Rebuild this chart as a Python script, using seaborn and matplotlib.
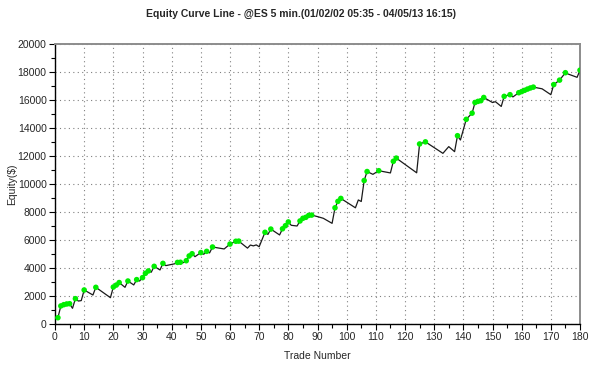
import matplotlib
matplotlib.use("Agg")
import matplotlib.pyplot as plt
import seaborn as sns
import pandas as pd
from matplotlib.ticker import MultipleLocator

trades = [1, 2, 3, 4, 5, 6, 7, 8, 9, 10, 13, 14, 19, 20, 21, 22, 24, 25, 27, 28,
          29, 30, 31, 32, 33, 34, 36, 37, 38, 41, 42, 43, 44, 45, 46, 47, 48, 50, 51, 52,
          53, 54, 58, 60, 62, 63, 66, 67, 68, 69, 70, 72, 73, 74, 77, 78, 79, 80, 81, 83,
          84, 85, 86, 87, 88, 90, 92, 95, 96, 97, 98, 103, 104, 105, 106, 107, 109, 111, 115, 116,
          117, 124, 125, 127, 133, 135, 137, 138, 139, 141, 143, 144, 145, 146, 147, 150, 151, 153, 154, 156,
          157, 159, 160, 161, 162, 163, 164, 167, 170, 171, 173, 175, 176, 179, 180]
equity = [450, 1290, 1380, 1430, 1450, 1120, 1810, 1640, 1670, 2430, 2070, 2620, 1880, 2640, 2780, 2960, 2620, 3070, 2790, 3170,
          3070, 3310, 3620, 3790, 3700, 4120, 3860, 4330, 4170, 4300, 4400, 4410, 4380, 4520, 4860, 5020, 4810, 5100, 4980, 5190,
          5080, 5500, 5360, 5710, 5910, 5920, 5420, 5640, 5580, 5650, 5520, 6550, 6400, 6780, 6360, 6800, 7020, 7290, 7050, 7000,
          7360, 7550, 7620, 7760, 7780, 7670, 7550, 7190, 8300, 8760, 8970, 8300, 8860, 8750, 10250, 10890, 10690, 10950, 10790, 11620,
          11850, 10800, 12860, 13010, 12190, 12670, 12310, 13450, 13140, 14620, 15060, 15820, 15900, 15950, 16180, 15820, 15880, 15540, 16260, 16380,
          16220, 16520, 16600, 16690, 16780, 16860, 16920, 16800, 16380, 17100, 17420, 17950, 17850, 17620, 18130]
green_trades = [1, 2, 3, 4, 5, 7, 10, 14, 20, 21, 22, 25, 28, 30, 31, 32, 34, 37, 42, 43,
                45, 46, 47, 50, 52, 54, 60, 62, 63, 72, 74, 78, 79, 80, 84, 85, 86, 87, 88, 96,
                97, 98, 106, 107, 111, 116, 117, 125, 127, 138, 141, 143, 144, 145, 146, 147, 154, 156, 159, 160,
                161, 162, 163, 164, 171, 173, 175, 180]

df = pd.DataFrame({"trade": trades, "equity": equity})
gdf = df[df["trade"].isin(green_trades)]

sns.set_style("white")
plt.rcParams["font.family"] = ["Liberation Sans", "DejaVu Sans"]

fig = plt.figure(figsize=(6, 3.68), dpi=100)
ax = fig.add_axes([55 / 600, (368 - 324) / 368, 525 / 600, 280 / 368])

sns.lineplot(data=df, x="trade", y="equity", ax=ax, color="#1a1a1a", lw=0.9,
             estimator=None, sort=False, zorder=3)
sns.scatterplot(data=gdf, x="trade", y="equity", ax=ax, color="#00ee00",
                s=16, edgecolor="none", zorder=4)

ax.set_xlim(0, 180)
ax.set_ylim(0, 20000)
ax.xaxis.set_major_locator(MultipleLocator(10))
ax.xaxis.set_minor_locator(MultipleLocator(5))
ax.yaxis.set_major_locator(MultipleLocator(2000))
ax.yaxis.set_minor_locator(MultipleLocator(1000))
ax.tick_params(axis="both", which="major", direction="out", length=4, width=0.8,
               labelsize=7.5, color="black", pad=2, bottom=True, left=True)
ax.tick_params(axis="both", which="minor", direction="out", length=3, width=0.8,
               color="black", bottom=True, left=True)
ax.grid(True, which="major", linestyle=(0, (1, 3)), color="#808080", lw=0.8)

for s in ["left", "bottom"]:
    ax.spines[s].set_color("black")
    ax.spines[s].set_linewidth(1.0)
for s in ["top", "right"]:
    ax.spines[s].set_color("#8c8c8c")
    ax.spines[s].set_linewidth(1.4)

ax.set_xlabel("Trade Number", fontsize=7.5, labelpad=6)
ax.set_ylabel("Equity($)", fontsize=7.5)
ax.yaxis.set_label_coords((17 - 55) / 525, 0.5)
fig.text(0.502, 0.962, "Equity Curve Line - @ES 5 min.(01/02/02 05:35 - 04/05/13 16:15)",
         ha="center", va="center", fontsize=7.5, fontweight="bold")

fig.savefig("out.png", dpi=100)
